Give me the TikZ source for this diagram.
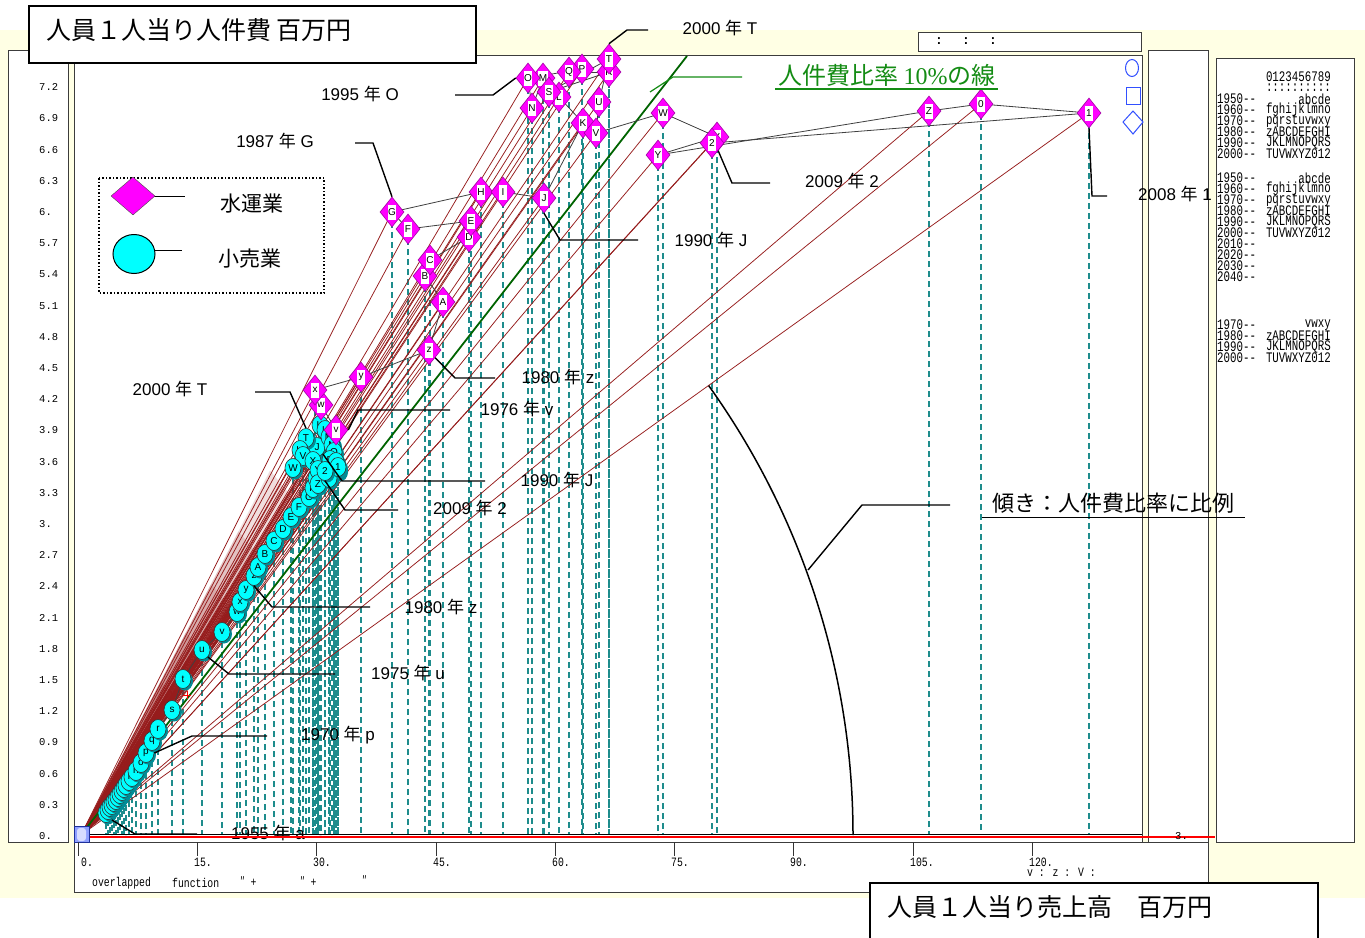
\documentclass[tikz,border=0pt]{standalone}
\usepackage{fontspec}
\setmainfont{Liberation Sans}
\newfontfamily\jp{Noto Sans CJK JP}
\newfontfamily\mono{Liberation Mono}
\newfontfamily\serifn{Liberation Serif}
\usetikzlibrary{shapes.geometric,calc}
\definecolor{bgy}{RGB}{255,255,228}
\definecolor{fanred}{RGB}{150,28,28}
\definecolor{tealc}{RGB}{30,140,140}
\definecolor{lineg}{RGB}{0,100,0}
\definecolor{textg}{RGB}{20,140,20}
\definecolor{magc}{RGB}{255,0,255}
\definecolor{magd}{RGB}{160,0,160}
\definecolor{cyanc}{RGB}{0,255,255}
\definecolor{cyans}{RGB}{0,140,150}
\definecolor{bluem}{RGB}{50,80,255}
\definecolor{framec}{RGB}{60,60,60}
\def\Dlist{v/336/430,w/321/405,x/315/390,y/361/377,z/429/350,A/443/302,B/425/276,C/430/260,D/469/237,E/471/221,F/408/229,G/392/212,H/481/192,I/503/192,J/544/198,K/583/123,L/559/97,M/543/78,N/532/108,O/528/78,P/582/69,Q/569/72,R/609/72,S/549/92,T/609/59,U/599/102,V/596/133,W/663/113,X/717/137,Y/658/155,Z/929/111,0/981/104,1/1089/113,2/712/143}
\def\Clist{a/106/813,b/108/810,c/110/807,d/112/805,e/114/802,f/116/800,g/118/797,h/120/794,i/122/791,j/124/788,k/126/785,l/129/781,m/132/777,n/136/771,o/141/763,p/146/753,q/152/741,r/158/729,s/172/710,t/183/679,u/202/650,v/222/632,w/237/612,x/240/602,y/246/590,z/254/576,A/258/567,B/265/554,C/274/541,D/283/529,E/291/517,F/299/507,G/309/497,H/313/488,I/316/478,J/317/447,K/320/425,L/325/430,M/329/437,N/332/445,O/334/452,P/330/460,Q/334/466,R/338/470,S/336/462,T/306/438,U/300/450,V/303/456,W/293/468,X/313/461,Y/318/470,Z/318/484,0/329/478,1/338/467,2/325/471}
\begin{document}
\begin{tikzpicture}[x=1pt,y=-1pt,
  dia/.style={shape=diamond, fill=magc, draw=magd, line width=0.6pt, minimum width=24pt, minimum height=30pt, inner sep=0pt},
  dlab/.style={fill=white, inner sep=0.4pt, minimum width=8pt, minimum height=15pt, font=\fontsize{10}{10}\selectfont},
  circ/.style={shape=ellipse, fill=cyanc, draw=black!80, line width=0.6pt, minimum width=16pt, minimum height=19pt, inner sep=0pt, font=\fontsize{10}{10}\selectfont},
  csh/.style={shape=ellipse, fill=cyans, minimum width=16pt, minimum height=19pt, inner sep=0pt},
  fan/.style={draw=fanred, line width=0.75pt},
  vdash/.style={draw=tealc, line width=1.1pt, dash pattern=on 6pt off 4pt},
  pathl/.style={draw=black!75, line width=0.8pt},
  lead/.style={draw=black, line width=1.4pt},
  lbl/.style={font=\fontsize{17}{18}\selectfont, inner sep=0pt},
  ylab/.style={font=\mono\fontsize{10.5}{11}\selectfont, anchor=west, inner sep=0pt},
  xlab/.style={font=\mono\fontsize{9.8}{10}\selectfont, anchor=west, inner sep=0pt},
  rp/.style={font=\mono\fontsize{10.8}{11}\selectfont, inner sep=0pt},
  panel/.style={fill=white, draw=framec, line width=1pt},
]
\useasboundingbox (0,0) rectangle (1365,937);
\fill[white] (0,0) rectangle (1365,937);
\fill[bgy] (0,30) rectangle (1365,898);
% panels
\draw[panel] (8,50) rectangle (68,842);
\draw[panel] (74,55) rectangle (1142,842);
\draw[panel] (1148,50) rectangle (1208,842);
\draw[panel] (1216,58) rectangle (1354,842);
\draw[panel] (74,842) rectangle (1208,892);
\draw[panel] (918,32) rectangle (1141,51);
\foreach \xx [count=\i] in {939,966,993} \node[font=\mono\bfseries\fontsize{13}{13}\selectfont, inner sep=0pt] (colon\i) at (\xx,41) {:};
% coordinates
\coordinate (O) at (81,835);
\coordinate (fanA) at (291,430);
\foreach \l/\x/\y in \Dlist {\coordinate (pd-\l) at (\x,\y);}
\foreach \l/\x/\y in \Clist {\coordinate (pc-\l) at (\x,\y);}
% dashed verticals
\foreach \l/\x/\y in \Dlist {\draw[vdash] (pd-\l) -- (pd-\l |- O);}
\foreach \l/\x/\y in \Clist {\draw[vdash] (pc-\l) -- (pc-\l |- O);}
% dense fan near the origin (fading wedges)
\foreach \f in {0.25,0.38,0.5,0.62,0.75,0.9}
  \fill[fanred, opacity=0.14] (O) -- ($(O)!\f!(fanA)$) -- ($(O)!\f!(pc-2)$) -- cycle;
% fan
\foreach \l/\x/\y in \Clist {\draw[fan] (O) -- (pc-\l);}
\foreach \l/\x/\y in \Dlist {\draw[fan] (O) -- (pd-\l);}
% 10% line
\draw[lineg, line width=1.8pt] (O) -- (687,56);
\draw[textg, line width=1.2pt] (650,92) -- (673,77) -- (742,77);
% small plus
\draw[red, line width=0.6pt] (183,695) -- (191,695) (187,691) -- (187,699);
% paths
\foreach \l/\x/\y [remember=\l as \lp (initially a)] in \Clist {\draw[pathl] (pc-\lp) -- (pc-\l);}
\foreach \l/\x/\y [remember=\l as \lp (initially v)] in \Dlist {\draw[pathl] (pd-\lp) -- (pd-\l);}
% circles
\foreach \l/\x/\y in \Clist {
  \node[csh] (cs-\l) at ([shift={(2,2)}]pc-\l) {};
  \node[circ] (c-\l) at (pc-\l) {\l};
}
% diamonds
\foreach \l/\x/\y in \Dlist {
  \node[dia] (d-\l) at (pd-\l) {};
  \node[dlab] (dl-\l) at (pd-\l) {\l};
}
% leaders and labels
\draw[lead] (c-a.south east) -- (135,834) -- (197,834);
\node[lbl] (L1) at (268,833) {1955 {\jp 年} a};
\draw[lead] (c-p.east) -- (192,736) -- (267,736);
\node[lbl] (L2) at (338,735) {1970 {\jp 年} p};
\draw[lead] (c-u.south east) -- (229,674) -- (335,674);
\node[lbl] (L3) at (408,673) {1975 {\jp 年} u};
\draw[lead] (c-z.south) -- (272,607) -- (370,607);
\node[lbl] (L4) at (441,607) {1980 {\jp 年} z};
\draw[lead] (c-2.south) -- (345,510) -- (398,510);
\node[lbl] (L5) at (470,508) {2009 {\jp 年} 2};
\draw[lead] (c-J.south east) -- (342,481) -- (485,481);
\node[lbl] (L6) at (557,480) {1990 {\jp 年} J};
\draw[lead] (d-v.east) -- (358,410) -- (450,410);
\node[lbl] (L7) at (517,409) {1976 {\jp 年} v};
\draw[lead] (c-T.north) -- (290,392) -- (255,392);
\node[lbl] (L8) at (170,389) {2000 {\jp 年} T};
\draw[lead] (d-z.south east) -- (455,378) -- (495,378);
\node[lbl] (L9) at (558,377) {1980 {\jp 年} z};
\draw[lead] (d-J.south) -- (560,240) -- (638,240);
\node[lbl] (L10) at (711,240) {1990 {\jp 年} J};
\draw[lead] (d-G.north) -- (373,143) -- (355,143);
\node[lbl] (L11) at (275,141) {1987 {\jp 年} G};
\draw[lead] (d-O.west) -- (493,95) -- (455,95);
\node[lbl] (L12) at (360,94) {1995 {\jp 年} O};
\draw[lead] (d-T.north) -- (627,30) -- (648,30);
\node[lbl] (L13) at (720,28) {2000 {\jp 年} T};
\draw[lead] (d-2.south east) -- (732,183) -- (770,183);
\node[lbl] (L14) at (842,181) {2009 {\jp 年} 2};
\draw[lead] (d-1.south) -- (1092,196) -- (1107,196);
\node[lbl] (L15) at (1175,194) {2008 {\jp 年} 1};
% slope arc
\draw[black, line width=1.5pt] (O) ++(772,0) arc[start angle=0, end angle=-35.6, radius=772];
\draw[lead] (808,570) -- (862,505) -- (950,505);
\node[font=\jp\fontsize{22}{24}\selectfont, inner sep=0pt] (slope) at (1113,503) {傾き：人件費比率に比例};
\draw[black, line width=1pt] (982,517) -- (1245,517);
% green label
\node[font=\jp\fontsize{24}{26}\selectfont, text=textg, inner sep=0pt] (glab) at (887,75) {人件費比率 {\serifn 10\%}の線};
\draw[textg, line width=1.2pt] (775,89) -- (998,89);
% axis lines
\draw[black, line width=1pt] (80,834) -- (1142,834);
\draw[red, line width=1.6pt] (82,837) -- (1215,837);
% origin marker
\draw[fill=bluem!55, draw=bluem!60!black, line width=0.8pt] (74,826) rectangle (89,842);
\fill[bluem!20, rounded corners=3pt] (77,828) rectangle (86,841);
% y labels
\foreach \k/\t in {0/0.,1/0.3,2/0.6,3/0.9,4/1.2,5/1.5,6/1.8,7/2.1,8/2.4,9/2.7,10/3.,11/3.3,12/3.6,13/3.9,14/4.2,15/4.5,16/4.8,17/5.1,18/5.4,19/5.7,20/6.,21/6.3,22/6.6,23/6.9,24/7.2}
  \node[ylab] (yl\k) at (39,{836-31.2*\k}) {\t};
% x ticks and labels
\foreach \t/\xx/\lx in {0./78/81,15./197/194,30./316/313,45./436/433,60./555/552,75./674/671,90./793/790,105./913/910,120./1032/1029} {
  \draw[black!80, line width=0.8pt] (\xx,842) -- (\xx,856);
  \node[xlab] (xl\xx) at (\lx,862) {\scalebox{1}[1.3]{\t}};
}
\node[xlab] (vz) at (1027,872) {\scalebox{1}[1.3]{v : z : V :}};
\node[xlab] (ov1) at (92,883) {\scalebox{1}[1.3]{overlapped}};
\node[xlab] (ov2) at (172,883) {\scalebox{1}[1.3]{function}};
\node[xlab] (ov3) at (240,882) {\scalebox{1}[1.3]{{\jp ″} +}};
\node[xlab] (ov4) at (300,882) {\scalebox{1}[1.3]{{\jp ″} +}};
\node[xlab] (ov5) at (362,881) {\scalebox{1}[1.3]{{\jp ″}}};
\node[ylab] (three) at (1175,836) {3.};
% blue markers
\draw[bluem, line width=1pt] (1132,68) ellipse [x radius=6.5, y radius=8.5];
\draw[bluem, line width=1pt] (1126,87) rectangle (1140,104);
\draw[bluem, line width=1pt] (1133,111) -- (1143,122) -- (1133,134) -- (1123,122) -- cycle;
% right panel text
\node[rp, anchor=east] (rpd) at (1331,77) {\scalebox{1}[1.35]{0123456789}};
\node[rp, anchor=east] (rpc) at (1331,88) {\scalebox{1}[1.35]{::::::::::}};
\foreach \yy/\a/\b in {99/1950/abcde,110/1960/fghijklmno,121/1970/pqrstuvwxy,132/1980/zABCDEFGHI,143/1990/JKLMNOPQRS,154/2000/TUVWXYZ012,
  178/1950/abcde,189/1960/fghijklmno,200/1970/pqrstuvwxy,211/1980/zABCDEFGHI,222/1990/JKLMNOPQRS,233/2000/TUVWXYZ012,244/2010/,255/2020/,266/2030/,277/2040/,
  325/1970/vwxy,336/1980/zABCDEFGHI,347/1990/JKLMNOPQRS,358/2000/TUVWXYZ012} {
  \node[rp, anchor=west] (rpa\yy) at (1217,\yy) {\scalebox{1}[1.35]{\a-{}-}};
  \node[rp, anchor=east] (rpb\yy) at (1331,\yy) {\scalebox{1}[1.35]{\b}};
}
% legend
\draw[black, line width=1.5pt, dash pattern=on 1.5pt off 2pt] (99,178) rectangle (324,293);
\draw[black, line width=1pt] (150,196) -- (185,196);
\node[shape=diamond, fill=magc, draw=black!70, minimum width=44pt, minimum height=38pt, inner sep=0pt] (legd) at (133,196) {};
\draw[black, line width=1pt] (150,250) -- (182,250);
\node[shape=ellipse, fill=cyanc, draw=black, line width=1pt, minimum width=42pt, minimum height=39pt, inner sep=0pt] (legc) at (134,254) {};
\node[font=\jp\fontsize{21}{22}\selectfont, inner sep=0pt] (legt1) at (252,204) {水運業};
\node[font=\jp\fontsize{21}{22}\selectfont, inner sep=0pt] (legt2) at (250,259) {小売業};
% titles
\draw[black, line width=1.2pt, fill=white] (29,6) rectangle (476,63);
\node[font=\jp\fontsize{25}{27}\selectfont, anchor=west, inner sep=0pt] (title1) at (46,30) {人員１人当り人件費 百万円};
\draw[black, line width=1.2pt, fill=white] (870,883) rectangle (1318,945);
\node[font=\jp\fontsize{25}{27}\selectfont, anchor=west, inner sep=0pt] (title2) at (887,907) {人員１人当り売上高　百万円};
\end{tikzpicture}
\end{document}
